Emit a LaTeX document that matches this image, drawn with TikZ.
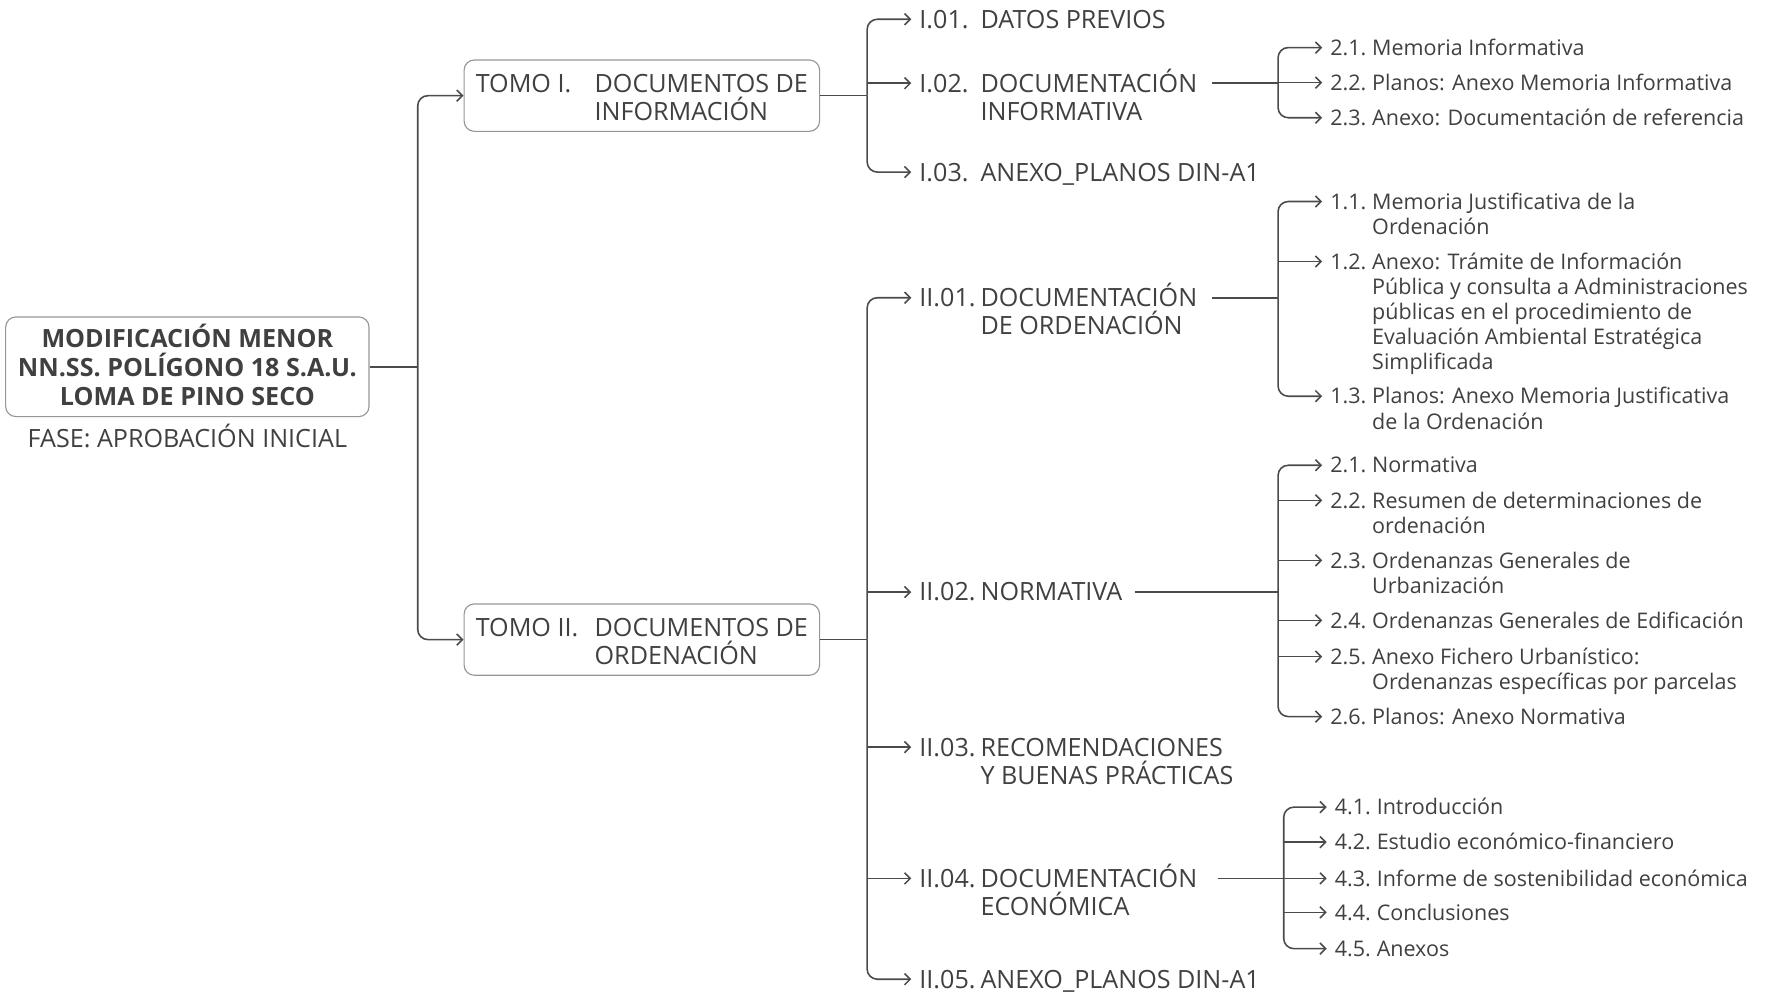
\documentclass[tikz,border=0pt]{standalone}
\usepackage{fontspec}
\setmainfont{Open Sans}
\usetikzlibrary{arrows.meta}
\definecolor{txtcol}{RGB}{64,64,64}
\definecolor{lncol}{RGB}{75,75,75}
\definecolor{bxcol}{RGB}{150,150,150}
\newcommand\fontB{\fontsize{22.2}{25}\selectfont}
\newcommand\fontT{\fontsize{22.2}{25.5}\selectfont}
\newcommand\fontC{\fontsize{19}{22.2}\selectfont}
\newcommand\rowB[2]{\begin{tabular}[t]{@{}l@{}l@{}}\makebox[54pt][l]{#1}&#2\end{tabular}}
\newcommand\rowC[2]{\begin{tabular}[t]{@{}l@{}l@{}}\makebox[37pt][l]{#1}&#2\end{tabular}}
\newcommand\tipB[1]{\coordinate (#1-e) at ([xshift=-7pt,yshift=7.9pt]#1.base west);}
\newcommand\tipC[1]{\coordinate (#1-e) at ([xshift=-7pt,yshift=6.8pt]#1.base west);}
\tikzset{
  stub/.style={draw=lncol, line width=1.4pt},
  conn/.style={stub, -{Straight Barb[length=5pt,width=10pt]}},
  rconn/.style={conn, rounded corners=9pt},
  lvB/.style={anchor=base west, inner sep=0pt, font=\fontB, text=txtcol},
  lvC/.style={anchor=base west, inner sep=0pt, font=\fontC, text=txtcol},
  boxed/.style={draw=bxcol, line width=1pt, rounded corners=9pt, inner sep=0pt, text=txtcol}
}
\begin{document}
\begin{tikzpicture}[x=1pt,y=-1pt]
\useasboundingbox (0,0) rectangle (1568,884);
% root
\node[boxed, minimum width=321pt, minimum height=88pt, font=\fontT\bfseries] (root) at (165.5,324)
  {\raisebox{0pt}[21.5pt][55.3pt]{\begin{tabular}[t]{@{}c@{}}\smash{MODIFICACIÓN MENOR}\\\smash{NN.SS. POLÍGONO 18 S.A.U.}\\\smash{LOMA DE PINO SECO}\end{tabular}}};
\node[anchor=base, inner sep=0pt, font=\fontB, text=txtcol] (fase) at (165.5,394.9) {FASE: APROBACIÓN INICIAL};
% tomos
\node[boxed, minimum width=314pt, minimum height=63pt, font=\fontB] (tomo1) at (567,84.5)
  {\raisebox{0pt}[21pt][27pt]{\begin{tabular}[t]{@{}l@{}l@{}}\makebox[105pt][l]{TOMO I.}&\smash{DOCUMENTOS DE}\\&\smash{INFORMACIÓN}\end{tabular}}};
\node[boxed, minimum width=314pt, minimum height=63pt, font=\fontB] (tomo2) at (567,565)
  {\raisebox{0pt}[21pt][27pt]{\begin{tabular}[t]{@{}l@{}l@{}}\makebox[105pt][l]{TOMO II.}&\smash{DOCUMENTOS DE}\\&\smash{ORDENACIÓN}\end{tabular}}};
% level 2
\node[lvB] (i01) at (812,24.9) {\rowB{I.01.}{DATOS PREVIOS}};
\node[lvB] (i02) at (812,81.4) {\rowB{I.02.}{\smash{DOCUMENTACIÓN}\\&\smash{INFORMATIVA}}};
\node[lvB] (i03) at (812,159.9) {\rowB{I.03.}{ANEXO\_PLANOS DIN-A1}};
\node[lvB] (ii01) at (812,270.9) {\rowB{II.01.}{\smash{DOCUMENTACIÓN}\\&\smash{DE ORDENACIÓN}}};
\node[lvB] (ii02) at (812,530.9) {\rowB{II.02.}{NORMATIVA}};
\node[lvB] (ii03) at (812,667.9) {\rowB{II.03.}{\smash{RECOMENDACIONES}\\&\smash{Y BUENAS PRÁCTICAS}}};
\node[lvB] (ii04) at (812,783.9) {\rowB{II.04.}{\smash{DOCUMENTACIÓN}\\&\smash{ECONÓMICA}}};
\node[lvB] (ii05) at (812,872.9) {\rowB{II.05.}{ANEXO\_PLANOS DIN-A1}};
% level 3
\node[lvC] (a21) at (1175,48.8) {\rowC{2.1.}{Memoria Informativa}};
\node[lvC] (a22) at (1175,79.8) {\rowC{2.2.}{Planos: Anexo Memoria Informativa}};
\node[lvC] (a23) at (1175,110.8) {\rowC{2.3.}{Anexo: Documentación de referencia}};
\node[lvC] (b11) at (1175,184.8) {\rowC{1.1.}{Memoria Justificativa de la\\&Ordenación}};
\node[lvC] (b12) at (1175,237.8) {\rowC{1.2.}{Anexo: Trámite de Información\\&Pública y consulta a Administraciones\\&públicas en el procedimiento de\\&Evaluación Ambiental Estratégica\\&Simplificada}};
\node[lvC] (b13) at (1175,356.8) {\rowC{1.3.}{Planos: Anexo Memoria Justificativa\\&de la Ordenación}};
\node[lvC] (c21) at (1175,417.8) {\rowC{2.1.}{Normativa}};
\node[lvC] (c22) at (1175,448.8) {\rowC{2.2.}{Resumen de determinaciones de\\&ordenación}};
\node[lvC] (c23) at (1175,501.8) {\rowC{2.3.}{Ordenanzas Generales de\\&Urbanización}};
\node[lvC] (c24) at (1175,554.8) {\rowC{2.4.}{Ordenanzas Generales de Edificación}};
\node[lvC] (c25) at (1175,586.8) {\rowC{2.5.}{Anexo Fichero Urbanístico:\\&Ordenanzas específicas por parcelas}};
\node[lvC] (c26) at (1175,639.8) {\rowC{2.6.}{Planos: Anexo Normativa}};
\node[lvC] (d41) at (1179,719.8) {\rowC{4.1.}{Introducción}};
\node[lvC] (d42) at (1179,750.8) {\rowC{4.2.}{Estudio económico-financiero}};
\node[lvC] (d43) at (1179,782.8) {\rowC{4.3.}{Informe de sostenibilidad económica}};
\node[lvC] (d44) at (1179,812.8) {\rowC{4.4.}{Conclusiones}};
\node[lvC] (d45) at (1179,844.8) {\rowC{4.5.}{Anexos}};
% end points
\tipB{i01}\tipB{i02}\tipB{i03}\tipB{ii01}\tipB{ii02}\tipB{ii03}\tipB{ii04}\tipB{ii05}
\tipC{a21}\tipC{a22}\tipC{a23}\tipC{b11}\tipC{b12}\tipC{b13}
\tipC{c21}\tipC{c22}\tipC{c23}\tipC{c24}\tipC{c25}\tipC{c26}
\tipC{d41}\tipC{d42}\tipC{d43}\tipC{d44}\tipC{d45}
\coordinate (i02-s) at ([xshift=13pt,yshift=7.9pt]i02.base east);
\coordinate (ii01-s) at ([xshift=13pt,yshift=7.9pt]ii01.base east);
\coordinate (ii02-s) at ([xshift=11pt,yshift=7.9pt]ii02.base east);
\coordinate (ii04-s) at ([xshift=18pt,yshift=7.9pt]ii04.base east);
% junctions
\coordinate (t0) at (369,324);
\coordinate (t1) at (766,84.5);
\coordinate (t1b) at (766,565);
\coordinate (t2) at (1129,73.5);
\coordinate (t3) at (1129,263);
\coordinate (t4) at (1129,523);
\coordinate (t5) at (1134,776);
% connectors
\draw[stub] (root.east) -- (t0);
\draw[rconn] (t0) |- (tomo1.west);
\draw[rconn] (t0) |- (tomo2.west);
\draw[stub] (tomo1.east) -- (t1);
\draw[rconn] (t1) |- (i01-e);
\draw[conn] (t1 |- i02-e) -- (i02-e);
\draw[rconn] (t1) |- (i03-e);
\draw[stub] (tomo2.east) -- (t1b);
\draw[rconn] (t1b) |- (ii01-e);
\draw[conn] (t1b |- ii02-e) -- (ii02-e);
\draw[conn] (t1b |- ii03-e) -- (ii03-e);
\draw[conn] (t1b |- ii04-e) -- (ii04-e);
\draw[rconn] (t1b) |- (ii05-e);
\draw[stub] (i02-s) -- (t2);
\draw[rconn] (t2) |- (a21-e);
\draw[conn] (t2 |- a22-e) -- (a22-e);
\draw[rconn] (t2) |- (a23-e);
\draw[stub] (ii01-s) -- (t3);
\draw[rconn] (t3) |- (b11-e);
\draw[conn] (t3 |- b12-e) -- (b12-e);
\draw[rconn] (t3) |- (b13-e);
\draw[stub] (ii02-s) -- (t4);
\draw[rconn] (t4) |- (c21-e);
\draw[conn] (t4 |- c22-e) -- (c22-e);
\draw[conn] (t4 |- c23-e) -- (c23-e);
\draw[conn] (t4 |- c24-e) -- (c24-e);
\draw[conn] (t4 |- c25-e) -- (c25-e);
\draw[rconn] (t4) |- (c26-e);
\draw[stub] (ii04-s) -- (t5);
\draw[rconn] (t5) |- (d41-e);
\draw[conn] (t5 |- d42-e) -- (d42-e);
\draw[conn] (t5 |- d43-e) -- (d43-e);
\draw[conn] (t5 |- d44-e) -- (d44-e);
\draw[rconn] (t5) |- (d45-e);
\end{tikzpicture}
\end{document}
